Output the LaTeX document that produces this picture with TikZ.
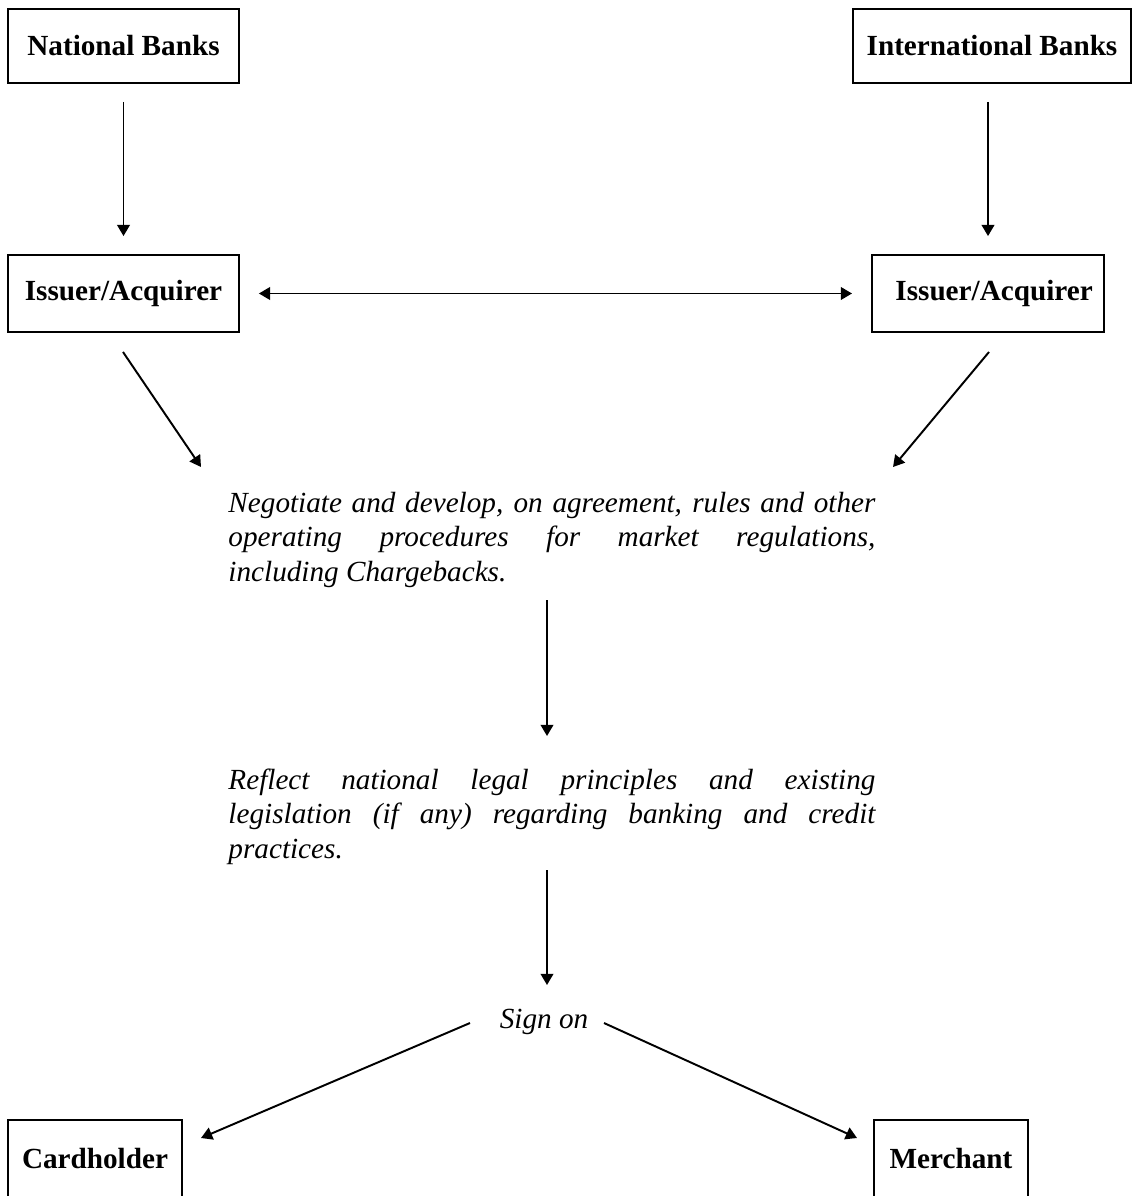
\documentclass[tikz,border=0pt]{standalone}
\usepackage{fontspec}
\setmainfont{Liberation Serif}
\usetikzlibrary{arrows.meta}
\begin{document}
\begin{tikzpicture}[x=0.411pt,y=-0.411pt,
  box/.style={draw,line width=0.8pt,inner sep=0pt,font=\bfseries\fontsize{12}{14}\selectfont},
  para/.style={anchor=base west,inner sep=0pt,text width=265.9pt,align=justify,font=\itshape\fontsize{12}{14.2}\selectfont},
  arr/.style={line width=0.8pt,-{Triangle[length=4.6pt,width=5.2pt]}},
  dbl/.style={line width=0.8pt,{Triangle[length=4.6pt,width=5.2pt]}-{Triangle[length=4.6pt,width=5.2pt]}}]
\useasboundingbox (0,0) rectangle (1132,1196);
% boxes
\node[box,minimum width=94.9pt,minimum height=30.4pt] (nb) at (123.5,46) {National Banks};
\node[box,minimum width=114.3pt,minimum height=30.4pt] (ib) at (992,46) {International Banks};
\node[box,minimum width=94.9pt,minimum height=31.6pt] (ia1) at (123.5,293.5) {Issuer/Acquirer};
\node[box,minimum width=95.4pt,minimum height=31.6pt] (ia2) at (988,293.5) {\hspace*{5pt}Issuer/Acquirer};
\node[box,minimum width=71.5pt,minimum height=31.6pt] (ch) at (95,1158.5) {Cardholder};
\node[box,minimum width=63.3pt,minimum height=31.6pt] (me) at (951,1158.5) {Merchant};
% texts
\node[para] (neg) at (228,512) {Negotiate and develop, on agreement, rules and other\linebreak operating procedures for market regulations,\linebreak including Chargebacks.};
\node[para] (refl) at (228,789) {Reflect national legal principles and existing\linebreak legislation (if any) regarding banking and credit\linebreak practices.};
\node[inner sep=0pt,font=\itshape\fontsize{12}{14}\selectfont] (sign) at (544,1022) {Sign on};
% free ends
\coordinate (d1s) at (123,352);
\coordinate (d1e) at (201,467);
\coordinate (d2s) at (989,352);
\coordinate (d2e) at (893,467);
\coordinate (m1s) at (547,600);
\coordinate (m1e) at (547,736);
\coordinate (m2s) at (547,870);
\coordinate (m2e) at (547,985);
\coordinate (s1s) at (470,1023);
\coordinate (s1e) at (201,1138);
\coordinate (s2s) at (604,1023);
\coordinate (s2e) at (857,1138);
% connectors
\draw[arr,shorten <=7.4pt,shorten >=7.4pt] (nb.south) -- (ia1.north);
\draw[arr,shorten <=7.4pt,shorten >=7.4pt] (ib.south -| ia2.north) -- (ia2.north);
\draw[dbl,shorten <=7.8pt,shorten >=7.8pt] (ia1) -- (ia2);
\draw[arr] (d1s) -- (d1e);
\draw[arr] (d2s) -- (d2e);
\draw[arr] (m1s) -- (m1e);
\draw[arr] (m2s) -- (m2e);
\draw[arr] (s1s) -- (s1e);
\draw[arr] (s2s) -- (s2e);
\end{tikzpicture}
\end{document}
